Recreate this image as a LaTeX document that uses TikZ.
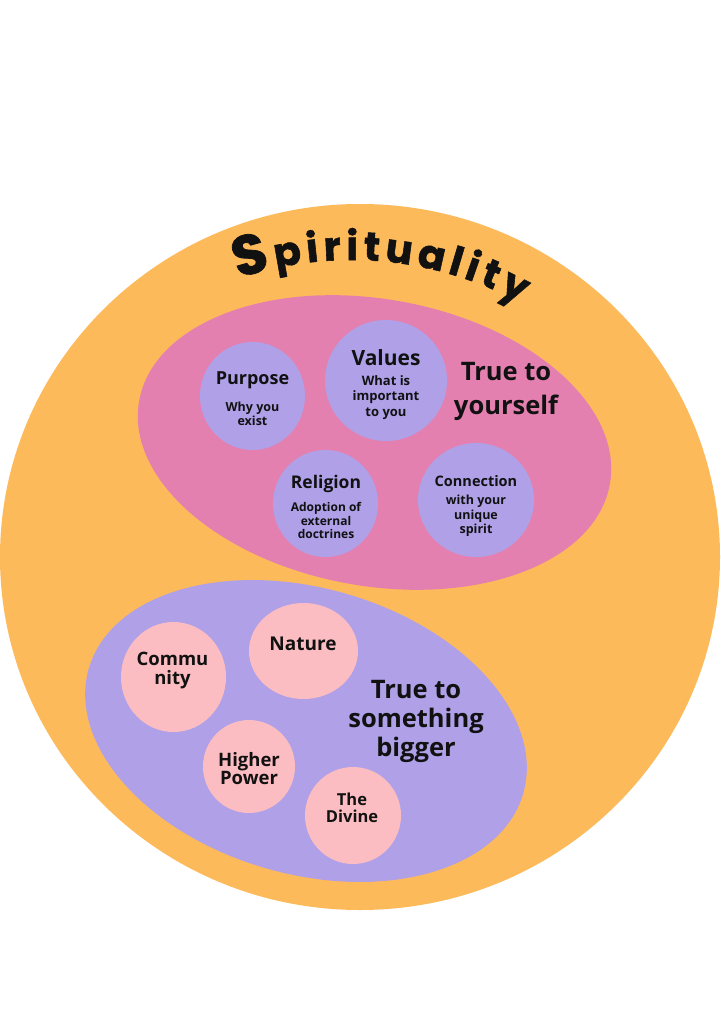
\documentclass[tikz,border=0pt]{standalone}
\usepackage{fontspec}
\setmainfont{Open Sans}
\newfontfamily\titlefont{Poppins}[FakeBold=1.4]
\usetikzlibrary{shapes.geometric,decorations.text}
\definecolor{orangebg}{RGB}{253,186,91}
\definecolor{pinkbg}{RGB}{228,128,176}
\definecolor{lavender}{RGB}{175,160,232}
\definecolor{rosecircle}{RGB}{251,189,193}
\definecolor{ink}{RGB}{17,17,17}
\begin{document}
\begin{tikzpicture}[x=1pt,y=-1pt,
  blob/.style={ellipse, inner sep=0pt, draw=none},
  bubble/.style={blob, fill=lavender},
  rosebubble/.style={blob, fill=rosecircle},
  head/.style={font=\bfseries\fontsize{#1}{#1}\selectfont, text=ink, align=center, inner sep=0pt},
  sub/.style={font=\bfseries\fontsize{12.5}{14.5}\selectfont, text=ink, align=center, inner sep=0pt},
  bigtext/.style={font=\bfseries\fontsize{25.5}{#1}\selectfont, text=ink, align=center, inner sep=0pt}
]
\useasboundingbox[fill=white] (0,0) rectangle (720,1019);

% outer circle
\node[blob, fill=orangebg, minimum width=720pt, minimum height=706pt] (outer) at (360,557) {};

% title along arc
\path[decorate, decoration={text along path,
  text={|\titlefont\bfseries\fontsize{56}{56}\selectfont|S|\titlefont\bfseries\fontsize{40}{40}\selectfont|pirituality},
  text align={fit to path}, text color=ink}]
  (351,616) ++(-108.5:356) arc[start angle=-108.5, end angle=-61.5, radius=356];

% upper pink ellipse
\node[blob, fill=pinkbg, minimum width=478pt, minimum height=287pt, rotate=-10] (self) at (374.5,442.5) {};
% lower lavender ellipse
\node[blob, fill=lavender, minimum width=452pt, minimum height=286pt, rotate=-16] (bigger) at (306,731) {};

% bubbles in the upper ellipse
\node[bubble, minimum width=105pt, minimum height=108pt] (purpose) at (252.5,396) {};
\node[bubble, minimum width=122pt, minimum height=121pt] (values) at (386,380.5) {};
\node[bubble, minimum width=105pt, minimum height=107pt] (religion) at (325.5,503.5) {};
\node[bubble, minimum width=116pt, minimum height=114pt] (connection) at (476,500) {};

\node[head=18] (purposeT) at (252.5,380) {Purpose};
\node[sub] (purposeS) at (252.5,414) {Why you\\exist};
\node[head=21] (valuesT) at (386,358) {Values};
\node[sub, font=\bfseries\fontsize{13}{15.5}\selectfont] (valuesS) at (386,397.5) {What is\\important\\to you};
\node[head=17.5] (religionT) at (326,484) {Religion};
\node[sub, font=\bfseries\fontsize{12}{13.5}\selectfont] (religionS) at (326,520.5) {Adoption of\\external\\doctrines};
\node[head=14.5] (connectionT) at (476,481) {Connection};
\node[sub] (connectionS) at (476,516) {with your\\unique\\spirit};

\node[bigtext=34] (selfT) at (506,391) {True to\\yourself};

% bubbles in the lower ellipse
\node[rosebubble, minimum width=105pt, minimum height=110pt] (community) at (173.5,677) {};
\node[rosebubble, minimum width=109pt, minimum height=96pt] (nature) at (303.5,651) {};
\node[rosebubble, minimum width=92pt, minimum height=93pt] (higher) at (249,766.5) {};
\node[rosebubble, minimum width=96pt, minimum height=97pt] (divine) at (353,815.5) {};

\node[head=18.5, font=\bfseries\fontsize{18.5}{19}\selectfont] (communityT) at (172.5,670.5) {Commu\\nity};
\node[head=19] (natureT) at (303,644) {Nature};
\node[head=18.5, font=\bfseries\fontsize{18.5}{18}\selectfont] (higherT) at (249,769) {Higher\\Power};
\node[head=16.5, font=\bfseries\fontsize{16.5}{17}\selectfont] (divineT) at (352,807.5) {The\\Divine};

\node[bigtext=29] (biggerT) at (416,721) {True to\\something\\bigger};
\end{tikzpicture}
\end{document}
